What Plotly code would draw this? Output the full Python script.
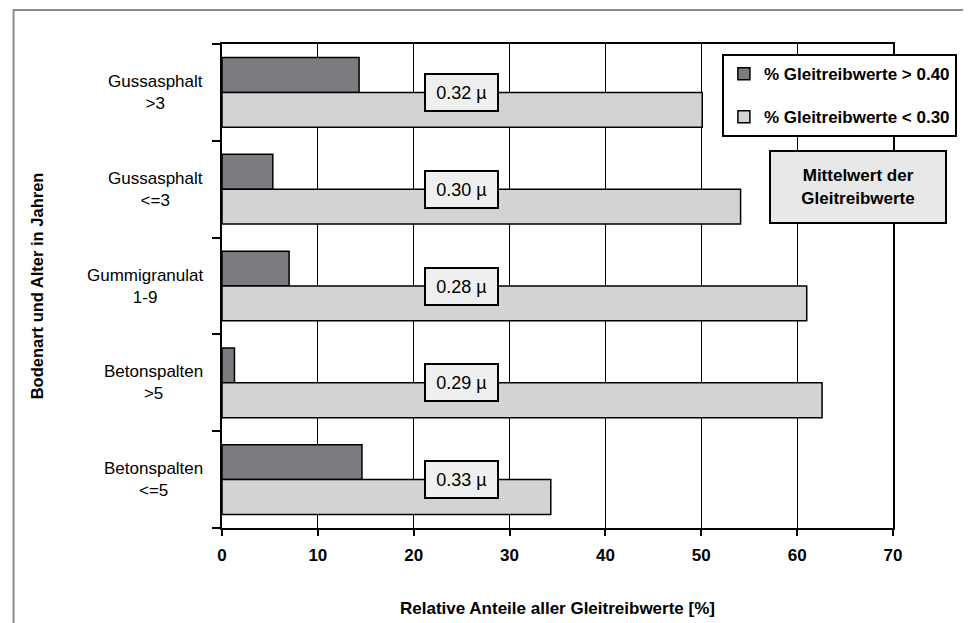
import plotly.graph_objects as go

categories = ["Gussasphalt<br>>3", "Gussasphalt<br><=3", "Gummigranulat<br>1-9",
              "Betonspalten<br>>5", "Betonspalten<br><=5"]
share_above_040 = [14.3, 5.3, 7.0, 1.3, 14.6]
share_below_030 = [50.1, 54.1, 61.0, 62.6, 34.3]
mean_mu = ["0.32", "0.30", "0.28", "0.29", "0.33"]
x_ticks = [0, 10, 20, 30, 40, 50, 60, 70]

FONT = "Liberation Sans, Arial, sans-serif"
cat_ids = list(range(len(categories)))

fig = go.Figure()
fig.add_trace(go.Bar(
    y=cat_ids, x=share_above_040, orientation="h",
    name="% Gleitreibwerte > 0.40", legendgroup="a",
    marker=dict(color="#7b7b80", line=dict(color="black", width=1.5)),
))
fig.add_trace(go.Bar(
    y=cat_ids, x=share_below_030, orientation="h",
    name="% Gleitreibwerte < 0.30", legendgroup="b",
    marker=dict(color="#d2d3d5", line=dict(color="black", width=1.5)),
))

annotations = []
for i, cat in enumerate(categories):
    annotations.append(dict(
        x=0, xref="paper", xshift=-17, y=i, yref="y",
        text=cat, showarrow=False, xanchor="right", align="center",
        font=dict(family=FONT, size=17, color="black"),
    ))
    annotations.append(dict(
        x=25, y=i, xref="x", yref="y", text=mean_mu[i] + " µ",
        showarrow=False, bgcolor="#efefef", bordercolor="black",
        borderwidth=2, borderpad=0, width=71, height=35,
        xanchor="center", yanchor="middle",
        font=dict(family=FONT, size=18, color="black"),
    ))

annotations.append(dict(
    x=0.948, y=0.7045, xref="paper", yref="paper",
    xanchor="center", yanchor="middle",
    text="Mittelwert der<br>Gleitreibwerte", showarrow=False,
    bgcolor="#e8e8e8", bordercolor="black", borderwidth=2, borderpad=0,
    width=174, height=70, align="center",
    font=dict(family=FONT, size=17, color="black", weight="bold"),
))

fig.update_layout(
    width=963, height=615,
    margin=dict(l=214, r=78, t=36, b=95, autoexpand=False),
    paper_bgcolor="white", plot_bgcolor="white",
    barmode="group", bargap=0.28, bargroupgap=0,
    font=dict(family=FONT, color="black"),
    showlegend=True,
    legend=dict(
        x=0.745, y=0.979, xanchor="left", yanchor="top",
        bgcolor="white", bordercolor="black", borderwidth=2,
        font=dict(family=FONT, size=17, color="black", weight="bold"),
        tracegroupgap=18, itemwidth=30, itemclick=False,
    ),
    annotations=annotations,
    shapes=[dict(type="rect", xref="paper", yref="paper",
                 x0=-0.3106, x1=1.3, y0=-0.4, y1=1.0702,
                 line=dict(color="#8c8c8c", width=2), layer="below")],
)

fig.update_xaxes(
    range=[0, 70], tickvals=x_ticks, ticktext=[str(v) for v in x_ticks],
    showgrid=True, gridcolor="black", gridwidth=1,
    showline=True, linecolor="black", linewidth=2, mirror=True,
    ticks="outside", ticklen=6, tickcolor="black", tickwidth=2,
    ticklabelstandoff=5, zeroline=False, automargin=False,
    tickfont=dict(family=FONT, size=17, color="black", weight="bold"),
    title=dict(text="Relative Anteile aller Gleitreibwerte [%]", standoff=38,
               font=dict(family=FONT, size=17, color="black", weight="bold")),
)
fig.update_yaxes(
    range=[len(categories) - 0.5, -0.5],
    tickvals=[i - 0.5 for i in range(len(categories) + 1)],
    showticklabels=False, showgrid=False, zeroline=False,
    showline=True, linecolor="black", linewidth=2, mirror=True,
    ticks="outside", ticklen=8, tickcolor="black", tickwidth=2, automargin=False,
    title=dict(text="Bodenart und Alter in Jahren", standoff=164,
               font=dict(family=FONT, size=16.5, color="black", weight="bold")),
)

fig.write_html("out.html")
